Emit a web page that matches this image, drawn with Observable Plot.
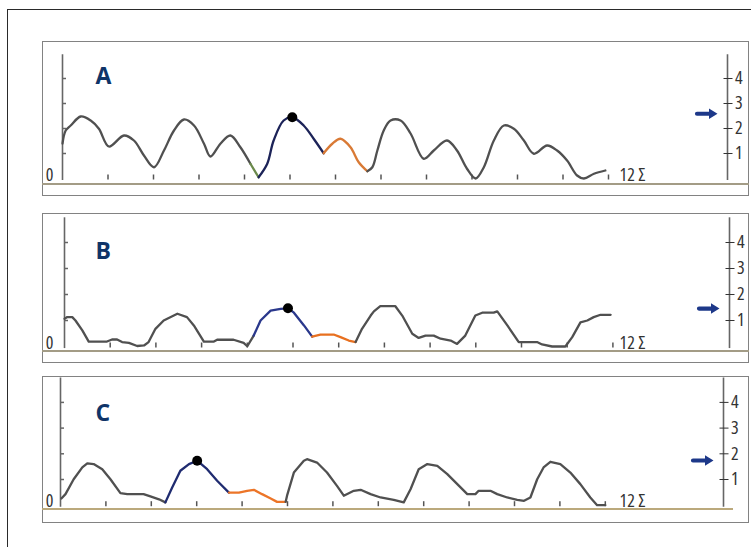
<!DOCTYPE html>
<html><head><meta charset="utf-8">
<script src="https://cdn.jsdelivr.net/npm/d3@7"></script>
<script src="https://cdn.jsdelivr.net/npm/@observablehq/plot@0.6"></script>
<style>
body{margin:0;background:#fff;}
#page{position:relative;width:751px;height:547px;overflow:hidden;background:#fff;}
.frame{position:absolute;left:7px;top:9px;width:760px;height:560px;border-top:1px solid #2a2a2a;border-left:1px solid #2a2a2a;}
.box{position:absolute;border:1.5px solid #828282;box-sizing:border-box;}
.base{position:absolute;height:2px;}
.plotwrap{position:absolute;}
.plotwrap g.panel-label{font-stretch:normal;}
</style></head><body><div id="page"><div class="frame"></div></div>
<script>
// ---- data ----
const panelLabels = ["A", "B", "C"];
const yTicks = [1, 2, 3, 4];
const xTicks = [1, 2, 3, 4, 5, 6, 7, 8, 9, 10, 11, 12];
const endLabel = "12 Σ";
const zeroLabel = "0";

const tA = [0, 0.07, 0.18, 0.40, 0.62, 0.80, 1.02, 1.35, 1.57, 1.79, 2.01, 2.23, 2.45, 2.67, 2.89, 3.11, 3.25, 3.47, 3.69, 3.91, 4.13, 4.31, 4.50, 4.64, 4.86, 5.05, 5.30, 5.52, 5.74, 5.93, 6.11, 6.33, 6.51, 6.70, 6.81, 6.92, 7.06, 7.21, 7.43, 7.65, 7.94, 8.16, 8.45, 8.67, 8.89, 9.08, 9.26, 9.48, 9.70, 9.92, 10.14, 10.36, 10.65, 10.87, 11.09, 11.31, 11.46, 11.68, 11.93];
const vA = [1.4, 1.92, 2.12, 2.48, 2.32, 1.99, 1.28, 1.72, 1.52, 0.92, 0.45, 1.12, 1.92, 2.36, 2.12, 1.39, 0.88, 1.39, 1.72, 1.25, 0.59, 0.05, 0.59, 1.52, 2.32, 2.45, 2.12, 1.59, 1.01, 1.39, 1.59, 1.25, 0.65, 0.29, 0.45, 1.12, 1.92, 2.32, 2.32, 1.80, 0.79, 1.12, 1.52, 1.12, 0.39, 0.0, 0.45, 1.52, 2.12, 1.99, 1.52, 0.99, 1.32, 1.12, 0.72, 0.12, 0.0, 0.19, 0.32];

const tB = [0, 0.06, 0.17, 0.24, 0.39, 0.53, 0.93, 1.04, 1.15, 1.26, 1.41, 1.59, 1.74, 1.84, 1.99, 2.17, 2.47, 2.68, 2.83, 3.05, 3.27, 3.34, 3.70, 3.92, 4.0, 4.14, 4.29, 4.51, 4.73, 4.89, 5.02, 5.24, 5.42, 5.60, 5.89, 6.04, 6.22, 6.37, 6.51, 6.70, 6.77, 6.91, 7.24, 7.39, 7.61, 7.75, 7.90, 8.08, 8.23, 8.45, 8.59, 8.77, 8.99, 9.14, 9.39, 9.47, 9.69, 9.94, 10.34, 10.45, 10.67, 10.96, 11.11, 11.29, 11.44, 11.58, 11.73, 11.95];
const vB = [1.07, 1.13, 1.13, 1.0, 0.62, 0.19, 0.19, 0.27, 0.27, 0.17, 0.14, 0.02, 0.04, 0.17, 0.68, 1.0, 1.26, 1.13, 0.81, 0.19, 0.19, 0.26, 0.26, 0.14, 0.01, 0.42, 1.0, 1.38, 1.45, 1.47, 1.30, 0.81, 0.38, 0.46, 0.46, 0.36, 0.23, 0.17, 0.68, 1.19, 1.35, 1.55, 1.55, 1.19, 0.49, 0.33, 0.42, 0.42, 0.30, 0.23, 0.10, 0.42, 1.19, 1.30, 1.30, 1.35, 0.81, 0.17, 0.17, 0.08, 0.0, 0.0, 0.36, 0.93, 1.0, 1.13, 1.22, 1.22];

const tC = [0.02, 0.11, 0.29, 0.48, 0.59, 0.73, 0.92, 1.10, 1.32, 1.47, 1.83, 1.98, 2.17, 2.31, 2.46, 2.64, 2.83, 3.01, 3.23, 3.45, 3.71, 3.93, 4.11, 4.26, 4.44, 4.63, 4.77, 4.96, 4.99, 5.14, 5.36, 5.43, 5.65, 5.87, 6.09, 6.24, 6.46, 6.61, 6.83, 7.05, 7.34, 7.56, 7.71, 7.89, 8.08, 8.30, 8.52, 8.74, 8.96, 9.14, 9.21, 9.47, 9.62, 9.84, 10.06, 10.21, 10.35, 10.50, 10.64, 10.79, 11.01, 11.23, 11.45, 11.67, 11.82, 12.0];
const vC = [0.26, 0.43, 1.01, 1.47, 1.63, 1.60, 1.40, 1.01, 0.47, 0.43, 0.43, 0.34, 0.23, 0.11, 0.69, 1.34, 1.60, 1.73, 1.40, 0.95, 0.49, 0.49, 0.56, 0.60, 0.43, 0.26, 0.13, 0.13, 0.37, 1.27, 1.73, 1.79, 1.66, 1.27, 0.75, 0.37, 0.56, 0.60, 0.43, 0.30, 0.21, 0.11, 0.62, 1.40, 1.60, 1.53, 1.21, 0.82, 0.43, 0.43, 0.56, 0.56, 0.43, 0.30, 0.21, 0.17, 0.30, 1.01, 1.47, 1.69, 1.60, 1.27, 0.82, 0.30, 0.0, 0.0];

const greenStart = [4.13, null, null];
const navyStart = [4.31, 4.14, 2.31];
const orangeStart = [5.74, 5.42, 3.71];
const orangeEnd = [6.70, 6.37, 4.96];
const peakT = [5.05, 4.89, 3.01];
const peakV = [2.45, 1.47, 1.73];
const arrowValues = [2.59, 1.46, 1.74];

// ---- layout / style ----
const BOX_LEFT = 42, BOX_W = 707;
const layout = [
  {top: 41, height: 155, lineY: 182.5, lineRight: 749, x0: 62, step: 45.5, axisR: 727, y0: 178, unit: 25, labelY: 66.7,
   navy: "#1c2358", orange: "#d97a35", curve: "catmull-rom", lineColor: "#a39c86"},
  {top: 213, height: 150, lineY: 350, lineRight: 749, x0: 64, step: 45.7, axisR: 729, y0: 346, unit: 26, labelY: 241.7,
   navy: "#2a388c", orange: "#e8701f", curve: "linear", lineColor: "#a39c86"},
  {top: 376, height: 147, lineY: 508, lineRight: 733, x0: 60, step: 45.4, axisR: 723, y0: 504.7, unit: 25.7, labelY: 403.7,
   navy: "#1f2b70", orange: "#ec7528", curve: "linear", lineColor: "#bba97c"}
];
const GRAY = "#505050";
const NUM_FONT = "'Open Sans',sans-serif";
const NUM_SIZE = 18;

const arrowSymbol = {
  draw(ctx) {
    ctx.moveTo(-9.5, -2.1);
    ctx.lineTo(2.5, -2.1);
    ctx.lineTo(2.5, -5.2);
    ctx.lineTo(11, 0);
    ctx.lineTo(2.5, 5.2);
    ctx.lineTo(2.5, 2.1);
    ctx.lineTo(-9.5, 2.1);
    ctx.arc(-9.5, 0, 2.1, Math.PI / 2, 3 * Math.PI / 2);
    ctx.closePath();
  }
};

const series = [[tA, vA], [tB, vB], [tC, vC]];
const page = document.getElementById("page");

series.forEach(([ts, vs], i) => {
  const L = layout[i];
  const rows = ts.map((t, j) => ({t, v: vs[j]}));

  const box = document.createElement("div");
  box.className = "box";
  Object.assign(box.style, {left: BOX_LEFT + "px", top: L.top + "px", width: BOX_W + "px", height: L.height + "px"});
  page.appendChild(box);

  const base = document.createElement("div");
  base.className = "base";
  Object.assign(base.style, {left: BOX_LEFT + "px", top: L.lineY + "px", width: (L.lineRight - BOX_LEFT) + "px", background: L.lineColor});
  page.appendChild(base);

  const svgTop = L.top - 14;
  const H = L.lineY - svgTop;
  const xR = (L.axisR - L.x0) / L.step;
  const ns = navyStart[i], os = orangeStart[i], oe = orangeEnd[i], gs = greenStart[i];

  const seg = (a, b) => rows.filter(d => d.t >= a && d.t <= b);
  const grayBefore = seg(-1, gs ?? ns);
  const lineOpts = {x: "t", y: "v", curve: L.curve, strokeWidth: 2.3, strokeLinejoin: "round", strokeLinecap: "round"};

  const marks = [
    Plot.ruleX([0, xR], {y1: -0.08, y2: 4.95, stroke: "#666", strokeWidth: 1.6}),
    Plot.axisY(yTicks, {anchor: "left", tickSize: 4, dx: 4, tickFormat: () => "", label: null, color: "#666", strokeWidth: 1.5}),
    Plot.axisY(yTicks, {anchor: "right", tickSize: 9, dx: -4.5, tickPadding: 3, label: null, color: "#333", fontSize: NUM_SIZE, fontFamily: NUM_FONT}),
    Plot.axisX(xTicks, {anchor: "bottom", tickSize: 5, dy: -3.5, tickFormat: () => "", label: null, color: "#555", strokeWidth: 1.5}),
    Plot.line(grayBefore, {...lineOpts, stroke: GRAY}),
    gs != null ? Plot.line(seg(gs, ns), {...lineOpts, stroke: "#6b8a4c"}) : null,
    Plot.line(seg(ns, os), {...lineOpts, stroke: L.navy}),
    Plot.line(seg(os, oe), {...lineOpts, stroke: L.orange}),
    Plot.line(seg(oe, 99), {...lineOpts, stroke: GRAY}),
    Plot.dot([0], {x: () => peakT[i], y: () => peakV[i], r: 5, fill: "#000"}),
    Plot.dot([arrowValues[i]], {x: () => xR, y: d => d, symbol: arrowSymbol, r: 5, fill: "#1d3889", dx: -21}),
    Plot.text([zeroLabel], {x: 0, y: 0, text: d => d, textAnchor: "end", lineAnchor: "bottom", dx: 53 - L.x0, dy: 2, fontSize: NUM_SIZE, fontFamily: NUM_FONT, fill: "#333"}),
    Plot.text([endLabel], {x: 12, y: 0, text: d => d, textAnchor: "start", lineAnchor: "bottom", dx: 619 - (L.x0 + 12 * L.step), dy: 2, fontSize: NUM_SIZE, fontFamily: NUM_FONT, fill: "#333"}),
    Plot.text([panelLabels[i]], {frameAnchor: "top-left", text: d => d, lineAnchor: "top", dx: 95 - L.x0, dy: L.labelY - (L.y0 - 5 * L.unit), fontSize: 23, fontWeight: "bold", fontFamily: "'Open Sans',sans-serif", fill: "#0f3468", className: "panel-label"})
  ].filter(Boolean);

  const chart = Plot.plot({
    width: BOX_W,
    height: H,
    marginLeft: L.x0 - BOX_LEFT,
    marginRight: BOX_LEFT + BOX_W - L.axisR,
    marginTop: (L.y0 - 5 * L.unit) - svgTop,
    marginBottom: L.lineY - L.y0,
    x: {domain: [0, xR]},
    y: {domain: [0, 5]},
    style: {background: "transparent", overflow: "visible", fontStretch: "condensed"},
    marks
  });
  const wrap = document.createElement("div");
  wrap.className = "plotwrap";
  Object.assign(wrap.style, {left: BOX_LEFT + "px", top: svgTop + "px"});
  wrap.appendChild(chart);
  page.appendChild(wrap);
});
</script></body></html>
